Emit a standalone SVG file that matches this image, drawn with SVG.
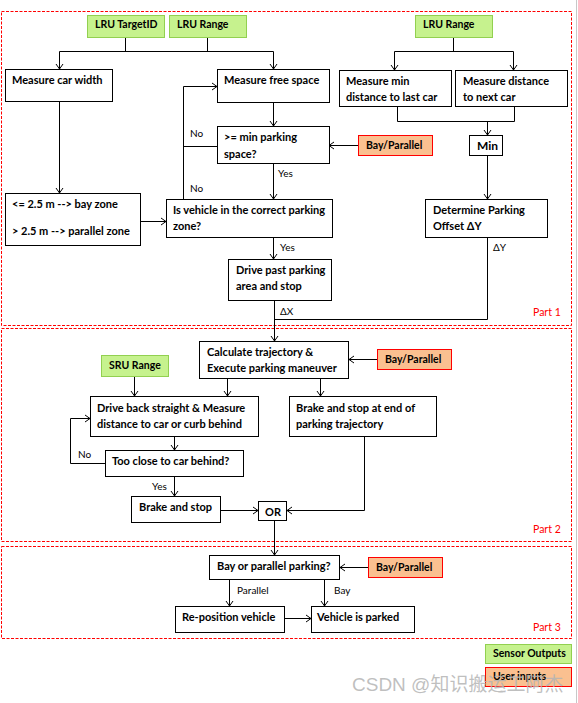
<svg xmlns="http://www.w3.org/2000/svg" width="578" height="703" viewBox="0 0 578 703">
<style>
.part{fill:none;stroke:#ff0000;stroke-width:1;stroke-dasharray:3,1.5}
.box{fill:#ffffff;stroke:#000;stroke-width:1}
.sensor{fill:#c6f28e;stroke:#92d050;stroke-width:1}
.user{fill:#fac090;stroke:#ff0000;stroke-width:1}
.t{font-family:Lato,"Liberation Sans",sans-serif;font-weight:bold;font-size:11px;fill:#000}
.s{font-family:Lato,"Liberation Sans",sans-serif;font-weight:bold;font-size:10.5px;fill:#000}
.l{font-family:Lato,"Liberation Sans",sans-serif;font-size:10px;fill:#000}
.p{font-family:Lato,"Liberation Sans",sans-serif;font-size:10.5px;fill:#ff0000}
.c{fill:none;stroke:#000;stroke-width:1}
.a{fill:none;stroke:#000;stroke-width:1;marker-end:url(#arr)}
</style>
<defs>
<marker id="arr" markerUnits="userSpaceOnUse" markerWidth="12" markerHeight="12" viewBox="-6 -6 12 12" refX="0" refY="0" orient="auto">
<path d="M-5,-3.5 L0,0 L-5,3.5" fill="none" stroke="#000" stroke-width="1"/>
</marker>
</defs>
<rect width="578" height="703" fill="#fff"/>
<line x1="576.5" y1="0" x2="576.5" y2="703" stroke="#c8c8c8" stroke-width="1"/>
<g id="parts">
<rect class="part" x="1.5" y="11.5" width="570" height="314"/>
<rect class="part" x="1.5" y="328.5" width="570" height="213"/>
<rect class="part" x="1.5" y="546.5" width="570" height="92"/>
<text class="p" x="533" y="316">Part 1</text>
<text class="p" x="533" y="533">Part 2</text>
<text class="p" x="533" y="631">Part 3</text>
</g>
<g id="connectors">
<path class="c" d="M125.5,38 V51.5 M207.5,38 V51.5 M59.5,51.5 H273.5"/>
<path class="a" d="M59.5,51.5 V69"/>
<path class="a" d="M273.5,51.5 V69"/>
<path class="c" d="M453.5,38 V51.5 M394.5,51.5 H513.5"/>
<path class="a" d="M394.5,51.5 V70"/>
<path class="a" d="M513.5,51.5 V70"/>
<path class="c" d="M397.5,107 V121.5 H514.5 V107"/>
<path class="a" d="M487.5,121.5 V135"/>
<path class="a" d="M487.5,155 V199"/>
<path class="c" d="M487.5,238 V319.5 H274.5"/>
<path class="a" d="M59.5,102 V193"/>
<path class="a" d="M273.5,103 V126"/>
<path class="a" d="M358,145.5 H329"/>
<path class="c" d="M217,146.5 H183.5"/>
<path class="a" d="M183.5,199 V86.5 H217"/>
<path class="a" d="M273.5,164 V199"/>
<path class="a" d="M141,221.5 H166"/>
<path class="a" d="M273.5,238 V259"/>
<path class="a" d="M274.5,301 V341"/>
<path class="a" d="M377,359.5 H349"/>
<path class="a" d="M134.5,377 V396"/>
<path class="a" d="M227.5,379 V396"/>
<path class="a" d="M320.5,379 V396"/>
<path class="a" d="M174.5,437 V450"/>
<path class="a" d="M105,463.5 H70.5 V418.5 H90"/>
<path class="a" d="M174.5,477 V496"/>
<path class="a" d="M221,510.5 H258"/>
<path class="a" d="M364.5,437 V510.5 H287"/>
<path class="a" d="M274.5,521 V555"/>
<path class="a" d="M368,567.5 H340"/>
<path class="a" d="M229.5,580 V606"/>
<path class="a" d="M324.5,580 V606"/>
<path class="a" d="M285,618.5 H311"/>
<text class="l" x="190" y="137">No</text>
<text class="l" x="190" y="192">No</text>
<text class="l" x="278" y="177">Yes</text>
<text class="l" x="280" y="251">Yes</text>
<text class="l" x="280" y="315">ΔX</text>
<text class="l" x="493" y="251">ΔY</text>
<text class="l" x="78" y="458">No</text>
<text class="l" x="152" y="490">Yes</text>
<text class="l" x="237" y="594">Parallel</text>
<text class="l" x="334" y="594">Bay</text>
</g>
<g id="lru-targetid"><rect class="sensor" x="87.5" y="15.5" width="77" height="22"/><text class="s" x="95" y="28">LRU TargetID</text></g>
<g id="lru-range-1"><rect class="sensor" x="169.5" y="15.5" width="77" height="22"/><text class="s" x="177" y="28">LRU Range</text></g>
<g id="lru-range-2"><rect class="sensor" x="415.5" y="15.5" width="77" height="22"/><text class="s" x="423" y="28">LRU Range</text></g>
<g id="measure-car-width"><rect class="box" x="5.5" y="69.5" width="107" height="32"/><text class="t" x="12" y="84">Measure car width</text></g>
<g id="measure-free-space"><rect class="box" x="217.5" y="69.5" width="112" height="33"/><text class="t" x="224" y="84">Measure free space</text></g>
<g id="measure-min-distance"><rect class="box" x="339.5" y="70.5" width="112" height="36"/><text class="t" x="346" y="85">Measure min</text><text class="t" x="346" y="101">distance to last car</text></g>
<g id="measure-distance-next"><rect class="box" x="455.5" y="70.5" width="112" height="36"/><text class="t" x="463" y="85">Measure distance</text><text class="t" x="463" y="101">to next car</text></g>
<g id="min-parking-space"><rect class="box" x="217.5" y="126.5" width="112" height="37"/><text class="t" x="224" y="141">&gt;= min parking</text><text class="t" x="224" y="158">space?</text></g>
<g id="bay-parallel-1"><rect class="user" x="358.5" y="135.5" width="74" height="20"/><text class="s" x="366" y="149">Bay/Parallel</text></g>
<g id="min"><rect class="box" x="469.5" y="135.5" width="33" height="20"/><text class="t" x="477" y="150" style="font-size:12px">Min</text></g>
<g id="zone-rule"><rect class="box" x="5.5" y="193.5" width="135" height="52"/><text class="t" x="12" y="208">&lt;= 2.5 m --&gt; bay zone</text><text class="t" x="12" y="235">&gt; 2.5 m --&gt; parallel zone</text></g>
<g id="correct-zone"><rect class="box" x="166.5" y="199.5" width="166" height="38"/><text class="t" x="173" y="214">Is vehicle in the correct parking</text><text class="t" x="173" y="230">zone?</text></g>
<g id="determine-offset"><rect class="box" x="425.5" y="199.5" width="122" height="38"/><text class="t" x="433" y="214">Determine Parking</text><text class="t" x="433" y="230">Offset ΔY</text></g>
<g id="drive-past"><rect class="box" x="228.5" y="259.5" width="103" height="41"/><text class="t" x="236" y="274">Drive past parking</text><text class="t" x="236" y="290">area and stop</text></g>
<g id="calculate-trajectory"><rect class="box" x="199.5" y="341.5" width="149" height="37"/><text class="t" x="207" y="356">Calculate trajectory &amp;</text><text class="t" x="207" y="372">Execute parking maneuver</text></g>
<g id="bay-parallel-2"><rect class="user" x="377.5" y="349.5" width="74" height="20"/><text class="s" x="385" y="363">Bay/Parallel</text></g>
<g id="sru-range"><rect class="sensor" x="101.5" y="355.5" width="67" height="21"/><text class="s" x="109" y="369">SRU Range</text></g>
<g id="drive-back"><rect class="box" x="90.5" y="396.5" width="168" height="40"/><text class="t" x="97" y="412">Drive back straight &amp; Measure</text><text class="t" x="97" y="428">distance to car or curb behind</text></g>
<g id="brake-end"><rect class="box" x="289.5" y="396.5" width="147" height="40"/><text class="t" x="296" y="412">Brake and stop at end of</text><text class="t" x="296" y="428">parking trajectory</text></g>
<g id="too-close"><rect class="box" x="105.5" y="450.5" width="138" height="26"/><text class="t" x="112" y="465">Too close to car behind?</text></g>
<g id="brake-stop"><rect class="box" x="131.5" y="496.5" width="89" height="26"/><text class="t" x="139" y="511">Brake and stop</text></g>
<g id="or"><rect class="box" x="258.5" y="501.5" width="28" height="19"/><text class="t" x="265" y="516">OR</text></g>
<g id="bay-or-parallel"><rect class="box" x="209.5" y="555.5" width="130" height="24"/><text class="t" x="217" y="570">Bay or parallel parking?</text></g>
<g id="bay-parallel-3"><rect class="user" x="368.5" y="557.5" width="74" height="20"/><text class="s" x="376" y="571">Bay/Parallel</text></g>
<g id="reposition"><rect class="box" x="175.5" y="606.5" width="109" height="26"/><text class="t" x="182" y="621">Re-position vehicle</text></g>
<g id="parked"><rect class="box" x="311.5" y="606.5" width="103" height="26"/><text class="t" x="317" y="621">Vehicle is parked</text></g>
<g id="legend-sensor"><rect class="sensor" x="485.5" y="644.5" width="86" height="19"/><text class="s" x="493" y="657">Sensor Outputs</text></g>
<g id="legend-user"><rect class="user" x="485.5" y="667.5" width="86" height="19"/><text class="s" x="493" y="680">User inputs</text></g>
<text x="352" y="691" style="font-family:'Liberation Sans','Noto Sans CJK SC',sans-serif;font-size:19px;fill:#b4b4b4;fill-opacity:0.85">CSDN @知识搬运工阿杰</text>
</svg>
